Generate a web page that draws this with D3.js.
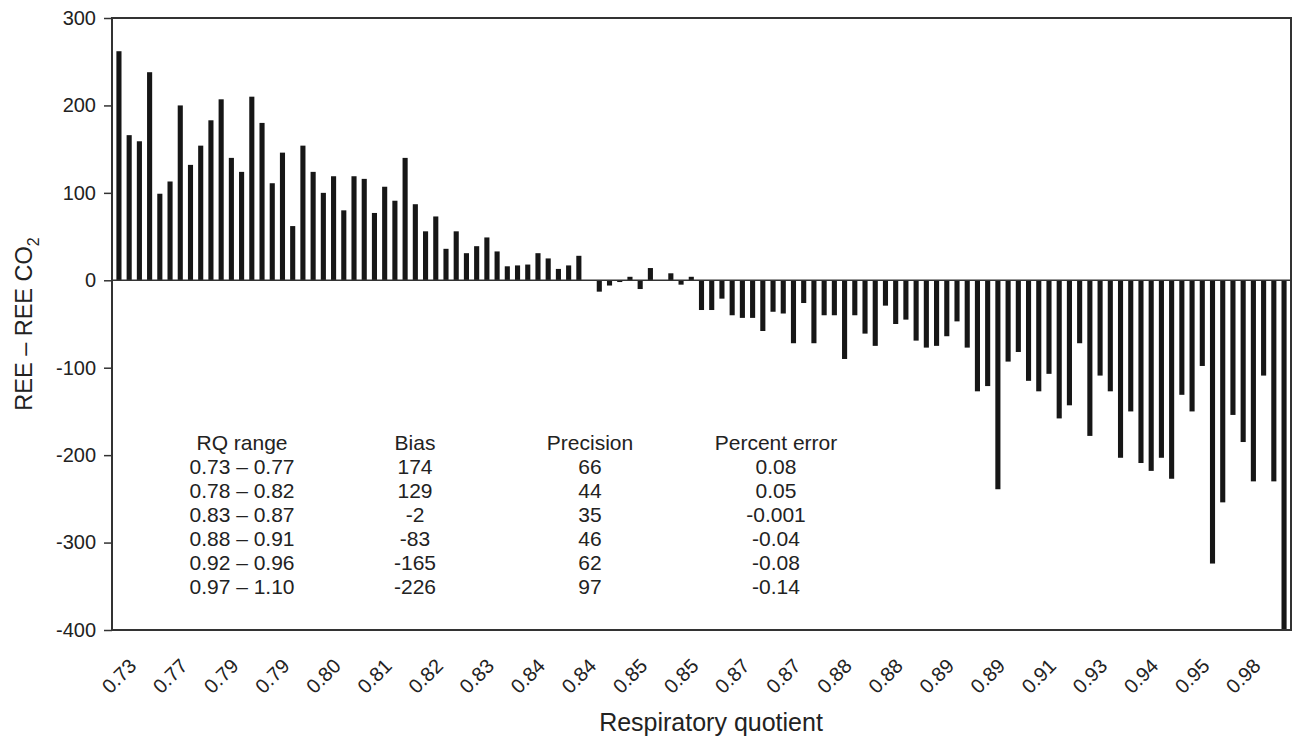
<!DOCTYPE html>
<html>
<head>
<meta charset="utf-8">
<script src="https://cdn.jsdelivr.net/npm/d3@7"></script>
<style>
  body { margin: 0; background: #fff; }
  text { font-family: "Liberation Sans", Arial, Helvetica, sans-serif; fill: #222; }
</style>
</head>
<body>
<div id="chart"></div>
<script>
// REE - REE CO2 per subject, ordered by respiratory quotient
var diffs = [
  262, 166, 159, 238, 99, 113, 200, 132, 154, 183,
  207, 140, 124, 210, 180, 111, 146, 62, 154, 124,
  100, 119, 80, 119, 116, 77, 107, 91, 140, 87,
  56, 73, 36, 56, 31, 39, 49, 33, 16, 17,
  18, 31, 25, 13, 17, 28, 0, -13, -6, -2,
  4, -10, 14, 0, 8, -5, 4, -34, -34, -21,
  -40, -43, -43, -58, -36, -38, -72, -26, -72, -40,
  -40, -90, -40, -61, -75, -29, -50, -45, -69, -77,
  -75, -64, -47, -77, -127, -121, -239, -93, -82, -115,
  -127, -107, -158, -143, -72, -178, -109, -127, -203, -150,
  -209, -218, -203, -227, -131, -150, -98, -324, -254, -154,
  -185, -230, -109, -230, -400
];

// one label every 5th bar
var rqLabels = ['0.73', '0.77', '0.79', '0.79', '0.80', '0.81', '0.82', '0.83',
  '0.84', '0.84', '0.85', '0.85', '0.87', '0.87', '0.88', '0.88', '0.89',
  '0.89', '0.91', '0.93', '0.94', '0.95', '0.98'];

var yTicks = [300, 200, 100, 0, -100, -200, -300, -400];

var tableHead = ['RQ range', 'Bias', 'Precision', 'Percent error'];
var rqRanges = ['0.73 \u2013 0.77', '0.78 \u2013 0.82', '0.83 \u2013 0.87',
  '0.88 \u2013 0.91', '0.92 \u2013 0.96', '0.97 \u2013 1.10'];
var bias = ['174', '129', '-2', '-83', '-165', '-226'];
var precision = ['66', '44', '35', '46', '62', '97'];
var pctError = ['0.08', '0.05', '-0.001', '-0.04', '-0.08', '-0.14'];

var W = 1294, H = 743;
var mLeft = 112, mRight = 1291, mTop = 18, mBottom = 630;

var svg = d3.select('#chart').append('svg')
    .attr('width', W)
    .attr('height', H);

var x = d3.scaleBand()
    .domain(d3.range(diffs.length))
    .range([mLeft, mRight])
    .paddingInner(0.5)
    .paddingOuter(0.43);

var y = d3.scaleLinear()
    .domain([-400, 300])
    .range([mBottom, mTop]);

// bars
svg.append('g')
    .selectAll('rect')
    .data(diffs)
    .enter()
    .append('rect')
    .attr('x', function(d, i) { return x(i); })
    .attr('width', x.bandwidth())
    .attr('y', function(d) { return y(Math.max(0, d)); })
    .attr('height', function(d) { return Math.abs(y(d) - y(0)); })
    .attr('fill', '#161616');

// zero line
svg.append('line')
    .attr('x1', mLeft).attr('x2', mRight)
    .attr('y1', y(0)).attr('y2', y(0))
    .attr('stroke', '#333')
    .attr('stroke-width', 1.5);

// frame
svg.append('rect')
    .attr('x', mLeft).attr('y', mTop)
    .attr('width', mRight - mLeft).attr('height', mBottom - mTop)
    .attr('fill', 'none')
    .attr('stroke', '#333')
    .attr('stroke-width', 2);

// y axis (plain hyphen for negatives, as in the original)
var yAxis = svg.append('g')
    .attr('transform', 'translate(' + mLeft + ',0)')
    .call(d3.axisLeft(y).tickValues(yTicks).tickSize(8).tickPadding(8)
        .tickFormat(function(d) { return String(d); }));
yAxis.select('.domain').remove();
yAxis.selectAll('line').attr('stroke', '#333').attr('stroke-width', 1.5);
yAxis.selectAll('text').style('font-size', '20px').attr('fill', '#222');

// x axis labels
var tickIdx = rqLabels.map(function(d, i) { return i * 5; });
var xAxis = svg.append('g')
    .attr('transform', 'translate(0,' + mBottom + ')')
    .call(d3.axisBottom(x).tickValues(tickIdx).tickSize(0)
        .tickFormat(function(d) { return rqLabels[d / 5]; }));
xAxis.select('.domain').remove();
xAxis.selectAll('text')
    .attr('y', 0)
    .attr('dy', '0.35em')
    .attr('text-anchor', 'middle')
    .attr('transform', 'translate(0,46) rotate(-45)')
    .style('font-size', '20px')
    .attr('fill', '#222');

// axis titles
svg.append('text')
    .attr('x', 711)
    .attr('y', 731)
    .attr('text-anchor', 'middle')
    .style('font-size', '25px')
    .text('Respiratory quotient');

var yt = svg.append('text')
    .attr('transform', 'translate(32,324) rotate(-90)')
    .attr('text-anchor', 'middle')
    .style('font-size', '23.5px');
yt.append('tspan').text('REE \u2013 REE CO');
yt.append('tspan').attr('dy', 7).style('font-size', '16px').text('2');

// summary table
var cols = [242, 415, 590, 776];
var colData = [rqRanges, bias, precision, pctError];
var table = svg.append('g').style('font-size', '21px');
tableHead.forEach(function(h, c) {
    table.append('text')
        .attr('x', cols[c]).attr('y', 450)
        .attr('text-anchor', 'middle')
        .text(h);
    colData[c].forEach(function(v, r) {
        table.append('text')
            .attr('x', cols[c]).attr('y', 474 + r * 24)
            .attr('text-anchor', 'middle')
            .text(v);
    });
});
</script>
</body>
</html>
